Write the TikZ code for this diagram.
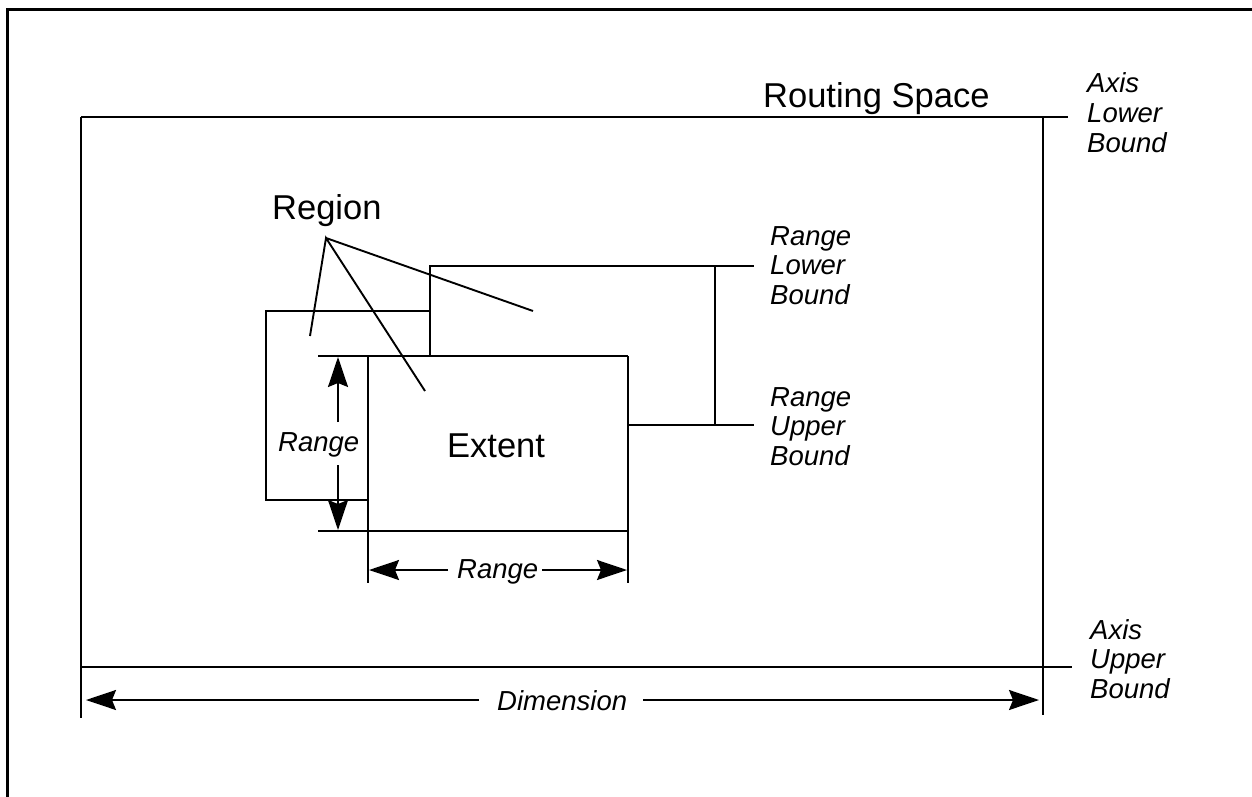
\documentclass[tikz,border=0pt]{standalone}
\usepackage{fontspec}
\setmainfont{Liberation Sans}
\usetikzlibrary{arrows.meta}
\begin{document}
\begin{tikzpicture}[x=1pt,y=-1pt,
  ln/.style={line width=1.9pt},
  framel/.style={line width=3pt},
  dimarrow/.style={ln,-{Stealth[length=30pt,width=20pt,inset=4pt]}},
  big/.style={font=\fontsize{34.5}{40}\selectfont, inner sep=0pt, anchor=base west},
  lab/.style={font=\fontsize{27.5}{29.5}\selectfont\itshape, inner sep=0pt, anchor=base west, align=left}]
\useasboundingbox (0,0) rectangle (1252,797);
% outer frame
\draw[framel] (7,800) -- (7,10) -- (1256,10);
% routing space
\coordinate (rsTL) at (81,117);
\coordinate (rsTRx) at (1068,117);
\coordinate (rsLB) at (81,718);
\coordinate (rsRT) at (1043,117);
\coordinate (rsRB) at (1043,715);
\coordinate (rsBL) at (81,667);
\coordinate (rsBRx) at (1072,667);
\draw[ln] (rsTL) -- (rsTRx);
\draw[ln] (rsTL) -- (rsLB);
\draw[ln] (rsRT) -- (rsRB);
\draw[ln] (rsBL) -- (rsBRx);
% back region
\coordinate (brB) at (430,356);
\coordinate (brTL) at (430,266);
\coordinate (brTR) at (754,266);
\draw[ln] (brB) -- (brTL) -- (brTR);
% left region
\coordinate (lrTR) at (430,311);
\coordinate (lrTL) at (266,311);
\coordinate (lrBL) at (266,500);
\coordinate (lrBR) at (368,500);
\draw[ln] (lrTR) -- (lrTL) -- (lrBL) -- (lrBR);
% extent
\coordinate (exTLx) at (318,356);
\coordinate (exTR) at (628,356);
\coordinate (exBLx) at (318,531);
\coordinate (exBR) at (628,531);
\coordinate (exLT) at (368,356);
\coordinate (exLB) at (368,583);
\coordinate (exRB) at (628,583);
\draw[ln] (exTLx) -- (exTR);
\draw[ln] (exBLx) -- (exBR);
\draw[ln] (exLT) -- (exLB);
\draw[ln] (exTR) -- (exRB);
% range bounds bracket
\coordinate (ruL) at (628,425);
\coordinate (ruR) at (754,425);
\coordinate (brkT) at (715,266);
\coordinate (brkB) at (715,425);
\draw[ln] (ruL) -- (ruR);
\draw[ln] (brkT) -- (brkB);
% region leaders
\coordinate (rgP) at (326,238);
\coordinate (rg1) at (310,336);
\coordinate (rg2) at (425,391);
\coordinate (rg3) at (533,311);
\draw[ln] (rg1) -- (rgP) -- (rg2);
\draw[ln] (rgP) -- (rg3);
% vertical range arrows
\coordinate (vaT) at (338,422);
\coordinate (vaTt) at (338,357);
\coordinate (vaB) at (338,465);
\coordinate (vaBt) at (338,530);
\draw[dimarrow] (vaT) -- (vaTt);
\draw[dimarrow] (vaB) -- (vaBt);
% horizontal range arrows
\coordinate (haL) at (448,570);
\coordinate (haLt) at (369,570);
\coordinate (haR) at (542,570);
\coordinate (haRt) at (627,570);
\draw[dimarrow] (haL) -- (haLt);
\draw[dimarrow] (haR) -- (haRt);
% dimension arrows
\coordinate (dmL) at (479,700);
\coordinate (dmLt) at (86,700);
\coordinate (dmR) at (643,700);
\coordinate (dmRt) at (1039,700);
\draw[dimarrow] (dmL) -- (dmLt);
\draw[dimarrow] (dmR) -- (dmRt);
% texts
\node[big] (rs) at (763,108) {Routing Space};
\node[big] (region) at (272,219) {Region};
\node[big] (extent) at (447,457) {Extent};
\node[lab] (axl) at (1087,152) {Axis\\Lower\\Bound};
\node[lab] (axu) at (1090,698) {Axis\\Upper\\Bound};
\node[lab] (rlb) at (770,304) {Range\\Lower\\Bound};
\node[lab] (rub) at (770,465) {Range\\Upper\\Bound};
\node[lab] (rv) at (278,451) {Range};
\node[lab] (rh) at (457,578) {Range};
\node[lab] (dim) at (497,710) {Dimension};
\end{tikzpicture}
\end{document}
